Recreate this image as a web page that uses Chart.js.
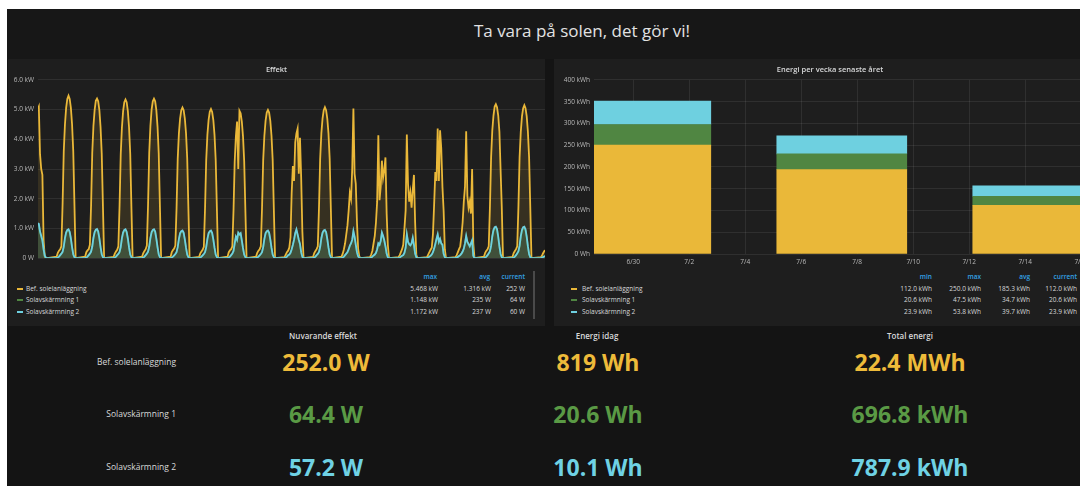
<!DOCTYPE html>
<html>
<head>
<meta charset="utf-8">
<script src="https://cdn.jsdelivr.net/npm/chart.js@4.4.0/dist/chart.umd.min.js"></script>
<style>
  html, body { margin: 0; padding: 0; width: 1080px; height: 486px; overflow: hidden; background: #fff; font-family: 'Open Sans', sans-serif; }
  .abs { position: absolute; white-space: nowrap; }
  #dash { position: absolute; left: 7px; top: 9px; width: 1200px; height: 480px; background: #141414; }
  #head { position: absolute; left: 7px; top: 9px; width: 1200px; height: 50px; background: #171717; }
  .panel { position: absolute; top: 59px; height: 267px; background: #1e1e1e; }
  .ptitle { color: #d8d9da; font-size: 7.5px; font-weight: 600; }
  .lg { color: #d8d9da; font-size: 6.5px; }
  .lh { color: #33a2e5; font-size: 6.5px; font-weight: 600; }
  .dash { position: absolute; width: 6px; height: 2px; }
  .slabel { color: #d8d9da; font-size: 8.5px; }
  .shead { color: #d8d9da; font-size: 8px; font-weight: 600; }
  .sval { font-size: 23px; font-weight: 700; }
</style>
</head>
<body>
<div id="dash"></div>
<div id="head"></div>
<div class="abs" style="left:382px;top:19px;width:400px;text-align:center;color:#e2e2e2;font-size:17px;line-height:24px;">Ta vara på solen, det gör vi!</div>

<div class="panel" style="left:8px;width:537px;"></div>
<div class="panel" style="left:554px;width:552px;"></div>
<canvas id="effekt" class="abs" width="538" height="194" style="left:8px;top:72px;"></canvas>
<canvas id="energi" class="abs" width="552" height="198" style="left:554px;top:72px;"></canvas>
<div class="abs" style="left:533px;top:271px;width:2px;height:48px;background:#4a4a4a;"></div>
<div id="texts"></div>

<script>
// series names
const seriesNames = ['Bef. solelanläggning', 'Solavskärmning 1', 'Solavskärmning 2'];

// Effekt: kW per hour of day (hours below), one row per day, day 0 starts 11:18
const effektHours = [3, 4, 5, 6, 7, 8, 9, 10, 11, 12, 13, 14, 15, 16, 17, 18, 19];
const effektStart = 11.3;
const effektEnd = 18 * 24 + 6.4;

const befSol = [
  [null, null, null, null, null, null, null, null, 5.0, 5.1, 3.5, 3.0, 2.8, 0.6, 0.05, 0, 0],
  [0.05, 0.18, 0.25, 0.3, 0.4, 1.8, 3.6, 4.5, 5.06, 5.36, 5.468, 5.36, 5.06, 4.5, 3.6, 1.8, 0],
  [0.05, 0.2, 0.26, 0.3, 0.45, 1.75, 3.55, 4.45, 4.98, 5.3, 5.37, 5.28, 4.98, 4.4, 3.5, 1.75, 0],
  [0.04, 0.15, 0.22, 0.28, 0.4, 1.75, 3.5, 4.4, 4.95, 5.25, 5.34, 5.25, 4.95, 4.4, 3.5, 1.7, 0],
  [0.05, 0.17, 0.24, 0.3, 0.42, 1.78, 3.55, 4.45, 5.0, 5.28, 5.37, 5.28, 4.98, 4.42, 3.52, 1.75, 0],
  [0.05, 0.2, 0.27, 0.32, 0.42, 1.65, 3.35, 4.2, 4.7, 4.98, 5.07, 4.98, 4.7, 4.2, 3.35, 1.65, 0],
  [0.04, 0.16, 0.22, 0.28, 0.38, 1.65, 3.3, 4.15, 4.65, 4.93, 5.02, 4.92, 4.65, 4.15, 3.3, 1.65, 0],
  [0.05, 0.2, 0.26, 0.3, 0.4, 1.6, 3.25, 4.1, 4.6, 3.0, 4.96, 4.88, 4.6, 4.1, 3.25, 1.6, 0],
  [0.05, 0.18, 0.25, 0.3, 0.4, 1.65, 3.3, 4.12, 4.62, 4.9, 4.99, 4.9, 4.62, 4.12, 3.3, 1.6, 0],
  [0.03, 0.12, 0.2, 0.25, 0.35, 0.7, 2.2, 3.1, 2.6, 3.9, 4.2, 4.36, 2.84, 4.05, 2.7, 0.9, 0],
  [0.04, 0.17, 0.24, 0.3, 0.4, 1.68, 3.35, 4.2, 4.7, 4.98, 5.08, 4.98, 4.7, 4.2, 3.35, 1.65, 0],
  [0.05, 0.15, 0.3, 0.5, 0.8, 1.1, 1.6, 2.2, 2.0, 3.0, 5.04, 2.84, 2.5, 1.2, 0.3, 0.05, 0],
  [0.03, 0.12, 0.25, 0.5, 0.75, 1.2, 1.9, 4.14, 1.95, 2.4, 3.28, 2.7, 2.95, 3.39, 1.5, 0.45, 0],
  [0.03, 0.1, 0.2, 0.3, 0.45, 1.0, 1.6, 4.16, 2.5, 1.9, 2.2, 1.7, 2.3, 2.8, 1.2, 0.1, 0],
  [0.03, 0.12, 0.2, 0.28, 0.35, 0.8, 1.8, 2.9, 2.6, 4.36, 2.6, 4.3, 3.7, 2.4, 1.6, 0.3, 0],
  [0.03, 0.1, 0.2, 0.3, 0.4, 0.75, 1.2, 1.9, 2.4, 4.27, 2.1, 1.7, 1.9, 1.5, 3.0, 0.5, 0],
  [0.05, 0.18, 0.25, 0.3, 0.4, 1.7, 3.4, 4.3, 4.8, 5.1, 5.18, 5.08, 4.8, 4.25, 2.95, 1.7, 0],
  [0.04, 0.17, 0.24, 0.3, 0.4, 1.7, 3.4, 4.25, 4.77, 5.05, 5.15, 5.05, 4.77, 4.25, 3.4, 1.7, 0],
  [0.03, 0.1, 0.18, 0.25, 0.26]
];

const solAvsk1 = [
  [null, null, null, null, null, null, null, null, 1.148, 1.12, 0.87, 0.72, 0.57, 0.28, 0.07, 0.01, 0],
  [0, 0.02, 0.05, 0.1, 0.15, 0.21, 0.37, 0.65, 0.84, 0.92, 0.94, 0.86, 0.64, 0.35, 0.12, 0.03, 0],
  [0, 0.02, 0.05, 0.1, 0.15, 0.21, 0.38, 0.66, 0.85, 0.93, 0.95, 0.87, 0.65, 0.36, 0.12, 0.03, 0],
  [0, 0.02, 0.05, 0.1, 0.14, 0.2, 0.37, 0.65, 0.84, 0.92, 0.94, 0.86, 0.64, 0.35, 0.12, 0.03, 0],
  [0, 0.02, 0.05, 0.1, 0.15, 0.21, 0.37, 0.66, 0.85, 0.92, 0.94, 0.87, 0.64, 0.36, 0.12, 0.03, 0],
  [0, 0.02, 0.05, 0.09, 0.14, 0.2, 0.36, 0.63, 0.81, 0.88, 0.9, 0.83, 0.61, 0.34, 0.11, 0.03, 0],
  [0, 0.02, 0.05, 0.09, 0.14, 0.19, 0.36, 0.63, 0.81, 0.88, 0.9, 0.82, 0.61, 0.34, 0.11, 0.03, 0],
  [0, 0.02, 0.05, 0.1, 0.15, 0.23, 0.48, 0.7, 0.6, 0.83, 0.78, 0.81, 0.58, 0.33, 0.11, 0.03, 0],
  [0, 0.02, 0.05, 0.09, 0.14, 0.2, 0.36, 0.63, 0.81, 0.88, 0.9, 0.83, 0.61, 0.34, 0.11, 0.03, 0],
  [0, 0.02, 0.05, 0.1, 0.12, 0.18, 0.3, 0.44, 0.6, 0.82, 0.94, 0.78, 0.6, 0.46, 0.19, 0.04, 0],
  [0, 0.02, 0.05, 0.1, 0.14, 0.2, 0.37, 0.65, 0.83, 0.9, 0.92, 0.85, 0.63, 0.35, 0.12, 0.03, 0],
  [0, 0.02, 0.05, 0.1, 0.14, 0.19, 0.29, 0.41, 0.48, 0.6, 0.88, 0.7, 0.44, 0.19, 0.06, 0.01, 0],
  [0, 0.02, 0.05, 0.09, 0.12, 0.17, 0.29, 0.48, 0.44, 0.56, 0.83, 0.72, 0.58, 0.39, 0.15, 0.03, 0],
  [0, 0.02, 0.05, 0.08, 0.1, 0.17, 0.34, 0.77, 0.53, 0.45, 0.42, 0.48, 0.66, 0.44, 0.15, 0.03, 0],
  [0, 0.02, 0.05, 0.08, 0.12, 0.19, 0.31, 0.46, 0.63, 0.77, 0.53, 0.63, 0.48, 0.43, 0.14, 0.03, 0],
  [0, 0.02, 0.04, 0.07, 0.1, 0.15, 0.21, 0.31, 0.48, 0.72, 0.53, 0.46, 0.39, 0.48, 0.58, 0.08, 0],
  [0, 0.02, 0.05, 0.1, 0.15, 0.22, 0.4, 0.71, 0.91, 1.0, 1.02, 0.94, 0.69, 0.38, 0.13, 0.03, 0],
  [0, 0.02, 0.05, 0.1, 0.15, 0.22, 0.4, 0.71, 0.91, 1.0, 1.02, 0.93, 0.69, 0.38, 0.13, 0.03, 0],
  [0, 0.02, 0.04, 0.06, 0.064]
];

const solAvsk2 = [
  [null, null, null, null, null, null, null, null, 1.172, 1.15, 0.9, 0.75, 0.6, 0.3, 0.08, 0.01, 0],
  [0, 0.02, 0.05, 0.1, 0.15, 0.21, 0.39, 0.68, 0.87, 0.95, 0.97, 0.89, 0.66, 0.37, 0.13, 0.03, 0],
  [0, 0.02, 0.05, 0.1, 0.15, 0.22, 0.39, 0.69, 0.88, 0.96, 0.98, 0.9, 0.67, 0.37, 0.13, 0.03, 0],
  [0, 0.02, 0.05, 0.1, 0.14, 0.21, 0.38, 0.68, 0.87, 0.95, 0.97, 0.89, 0.66, 0.36, 0.12, 0.03, 0],
  [0, 0.02, 0.05, 0.1, 0.15, 0.22, 0.39, 0.68, 0.88, 0.95, 0.97, 0.9, 0.66, 0.37, 0.13, 0.03, 0],
  [0, 0.02, 0.05, 0.09, 0.14, 0.2, 0.37, 0.65, 0.84, 0.91, 0.93, 0.86, 0.63, 0.35, 0.12, 0.03, 0],
  [0, 0.02, 0.05, 0.09, 0.14, 0.2, 0.37, 0.65, 0.84, 0.91, 0.93, 0.85, 0.63, 0.35, 0.12, 0.03, 0],
  [0, 0.02, 0.05, 0.1, 0.15, 0.24, 0.5, 0.72, 0.62, 0.86, 0.8, 0.84, 0.6, 0.34, 0.12, 0.03, 0],
  [0, 0.02, 0.05, 0.09, 0.14, 0.2, 0.37, 0.65, 0.84, 0.91, 0.93, 0.86, 0.63, 0.35, 0.12, 0.03, 0],
  [0, 0.02, 0.05, 0.1, 0.12, 0.18, 0.3, 0.45, 0.62, 0.85, 0.97, 0.8, 0.62, 0.48, 0.2, 0.04, 0],
  [0, 0.02, 0.05, 0.1, 0.14, 0.21, 0.38, 0.67, 0.86, 0.93, 0.95, 0.88, 0.65, 0.36, 0.12, 0.03, 0],
  [0, 0.02, 0.05, 0.1, 0.15, 0.2, 0.3, 0.42, 0.5, 0.62, 0.91, 0.72, 0.45, 0.2, 0.06, 0.01, 0],
  [0, 0.02, 0.05, 0.09, 0.12, 0.18, 0.3, 0.5, 0.45, 0.58, 0.86, 0.75, 0.6, 0.4, 0.15, 0.03, 0],
  [0, 0.02, 0.05, 0.08, 0.1, 0.18, 0.35, 0.8, 0.55, 0.47, 0.43, 0.5, 0.69, 0.45, 0.15, 0.03, 0],
  [0, 0.02, 0.05, 0.08, 0.12, 0.2, 0.32, 0.48, 0.65, 0.8, 0.55, 0.65, 0.5, 0.45, 0.15, 0.03, 0],
  [0, 0.02, 0.04, 0.07, 0.1, 0.15, 0.22, 0.32, 0.5, 0.75, 0.55, 0.48, 0.4, 0.5, 0.6, 0.08, 0],
  [0, 0.02, 0.05, 0.1, 0.16, 0.23, 0.42, 0.74, 0.95, 1.04, 1.06, 0.98, 0.72, 0.4, 0.14, 0.03, 0],
  [0, 0.02, 0.05, 0.1, 0.16, 0.23, 0.42, 0.74, 0.95, 1.04, 1.06, 0.97, 0.72, 0.4, 0.14, 0.03, 0],
  [0, 0.02, 0.04, 0.06, 0.062]
];

const effektTickLabels = ['0 W', '1.0 kW', '2.0 kW', '3.0 kW', '4.0 kW', '5.0 kW', '6.0 kW'];

// legend stats, Effekt
const effektMax = ['5.468 kW', '1.148 kW', '1.172 kW'];
const effektAvg = ['1.316 kW', '235 W', '237 W'];
const effektCurrent = ['252 W', '64 W', '60 W'];

// Energi per vecka: week position in days after 6/30, kWh
const weekDays = [0.45, 7.45, 14.45];
const befWeek = [250.0, 193.9, 112.0];
const sol1Week = [47.5, 36.0, 20.6];
const sol2Week = [53.8, 41.4, 23.9];
const energiTickDays = [0, 2, 4, 6, 8, 10, 12, 14, 16];
const energiTickLabels = ['6/30', '7/2', '7/4', '7/6', '7/8', '7/10', '7/12', '7/14', '7/16'];
const energiYLabels = ['0 Wh', '50 kWh', '100 kWh', '150 kWh', '200 kWh', '250 kWh', '300 kWh', '350 kWh', '400 kWh'];

const energiMin = ['112.0 kWh', '20.6 kWh', '23.9 kWh'];
const energiMax = ['250.0 kWh', '47.5 kWh', '53.8 kWh'];
const energiAvg = ['185.3 kWh', '34.7 kWh', '39.7 kWh'];
const energiCurrent = ['112.0 kWh', '20.6 kWh', '23.9 kWh'];

// singlestat values
const nuvarandeEffekt = ['252.0 W', '64.4 W', '57.2 W'];
const energiIdag = ['819 Wh', '20.6 Wh', '10.1 Wh'];
const totalEnergi = ['22.4 MWh', '696.8 kWh', '787.9 kWh'];


const COLORS = ['#eab839', '#508642', '#6ed0e0'];
const FILLS = ['rgba(234,184,57,0.12)', 'rgba(80,134,66,0.22)', 'rgba(110,208,224,0.10)'];
const TEXT_COLORS = ['#eebb3a', '#5a9a45', '#6fd2e4'];
const GRID = 'rgba(255,255,255,0.08)';
const TICK = '#b9b9b9';

Chart.defaults.font.family = "'Open Sans', sans-serif";

function buildPoints(days) {
    let pts = [];
    days.forEach((vals, day) => {
        vals.forEach((v, i) => {
            pts.push({ x: day * 24 + effektHours[i], y: v });
        });
    });
    return pts;
}

const effektSeries = [befSol, solAvsk1, solAvsk2];

new Chart(document.getElementById('effekt'), {
    type: 'line',
    data: {
        datasets: effektSeries.map((s, i) => ({
            label: seriesNames[i],
            data: buildPoints(s),
            borderColor: COLORS[i],
            backgroundColor: FILLS[i],
            fill: 'origin',
            order: 2 - i
        }))
    },
    options: {
        animation: false,
        responsive: false,
        devicePixelRatio: 1,
        elements: {
            point: { radius: 0 },
            line: { borderWidth: 1.8, tension: 0 }
        },
        layout: { padding: { top: 7, bottom: 5, right: 1, left: 0 } },
        plugins: { legend: { display: false }, tooltip: { enabled: false } },
        scales: {
            x: { type: 'linear', display: false, min: effektStart, max: effektEnd },
            y: {
                min: 0,
                max: 6,
                border: { display: false },
                grid: { color: GRID, drawTicks: false },
                ticks: {
                    stepSize: 1,
                    color: TICK,
                    padding: 4,
                    font: { size: 6.5 },
                    callback: v => effektTickLabels[v]
                },
                afterFit: s => { s.width = 30; }
            }
        }
    }
});

const weekSeries = [befWeek, sol1Week, sol2Week];

new Chart(document.getElementById('energi'), {
    type: 'bar',
    data: {
        datasets: weekSeries.map((s, i) => ({
            label: seriesNames[i],
            data: weekDays.map((d, j) => ({ x: d, y: s[j] })),
            backgroundColor: COLORS[i],
            barThickness: 130,
            clip: 0
        }))
    },
    options: {
        animation: false,
        responsive: false,
        devicePixelRatio: 1,
        layout: { padding: { top: 7, bottom: 0, right: 3, left: 0 } },
        plugins: { legend: { display: false }, tooltip: { enabled: false } },
        scales: {
            x: {
                type: 'linear',
                stacked: true,
                min: -1.4,
                max: 16.78,
                offset: false,
                border: { display: false },
                grid: { color: GRID, drawTicks: false, offset: false },
                afterBuildTicks: s => { s.ticks = energiTickDays.map(v => ({ value: v })); },
                ticks: {
                    autoSkip: false,
                    maxRotation: 0,
                    color: TICK,
                    padding: 4,
                    font: { size: 6.5 },
                    callback: (v, i) => energiTickLabels[i]
                },
                afterFit: s => { s.height = 16; }
            },
            y: {
                stacked: true,
                min: 0,
                max: 400,
                border: { display: false },
                grid: { color: GRID, drawTicks: false },
                ticks: {
                    stepSize: 50,
                    color: TICK,
                    padding: 4,
                    font: { size: 6.5 },
                    callback: v => energiYLabels[v / 50]
                },
                afterFit: s => { s.width = 40; }
            }
        }
    }
});

// html texts: titles, legends, stats
const texts = document.getElementById('texts');

function put(text, x, y, cls, align, color) {
    let el = document.createElement('div');
    el.className = 'abs ' + cls;
    el.textContent = text;
    el.style.top = y + 'px';
    el.style.lineHeight = '0px';
    if (align === 'center') {
        el.style.left = (x - 200) + 'px';
        el.style.width = '400px';
        el.style.textAlign = 'center';
    } else if (align === 'right') {
        el.style.left = (x - 300) + 'px';
        el.style.width = '300px';
        el.style.textAlign = 'right';
    } else {
        el.style.left = x + 'px';
    }
    if (color) el.style.color = color;
    texts.appendChild(el);
}

put('Effekt', 276.5, 68.5, 'ptitle', 'center');
put('Energi per vecka senaste året', 830, 68.5, 'ptitle', 'center');

const legendRows = [288.5, 300, 311.5];

// effekt legend
put('max', 437, 276.5, 'lh', 'right');
put('avg', 490, 276.5, 'lh', 'right');
put('current', 525, 276.5, 'lh', 'right');
seriesNames.forEach((name, i) => {
    let d = document.createElement('div');
    d.className = 'dash';
    d.style.left = '17px';
    d.style.top = (legendRows[i] - 1) + 'px';
    d.style.background = COLORS[i];
    texts.appendChild(d);
    put(name, 26, legendRows[i], 'lg', 'left');
    put(effektMax[i], 438, legendRows[i], 'lg', 'right');
    put(effektAvg[i], 491, legendRows[i], 'lg', 'right');
    put(effektCurrent[i], 525, legendRows[i], 'lg', 'right');
});

// energi legend
put('min', 932, 276.5, 'lh', 'right');
put('max', 981, 276.5, 'lh', 'right');
put('avg', 1030, 276.5, 'lh', 'right');
put('current', 1077, 276.5, 'lh', 'right');
seriesNames.forEach((name, i) => {
    let d = document.createElement('div');
    d.className = 'dash';
    d.style.left = '571px';
    d.style.top = (legendRows[i] - 1) + 'px';
    d.style.background = COLORS[i];
    texts.appendChild(d);
    put(name, 582, legendRows[i], 'lg', 'left');
    put(energiMin[i], 932, legendRows[i], 'lg', 'right');
    put(energiMax[i], 981, legendRows[i], 'lg', 'right');
    put(energiAvg[i], 1030, legendRows[i], 'lg', 'right');
    put(energiCurrent[i], 1077, legendRows[i], 'lg', 'right');
});

// singlestats
const statRows = [362, 414, 467];
put('Nuvarande effekt', 323, 336, 'shead', 'center');
put('Energi idag', 597, 336, 'shead', 'center');
put('Total energi', 910, 336, 'shead', 'center');
seriesNames.forEach((name, i) => {
    put(name, 176, statRows[i], 'slabel', 'right');
    put(nuvarandeEffekt[i], 326, statRows[i], 'sval', 'center', TEXT_COLORS[i]);
    put(energiIdag[i], 598, statRows[i], 'sval', 'center', TEXT_COLORS[i]);
    put(totalEnergi[i], 910, statRows[i], 'sval', 'center', TEXT_COLORS[i]);
});
</script>
</body>
</html>
